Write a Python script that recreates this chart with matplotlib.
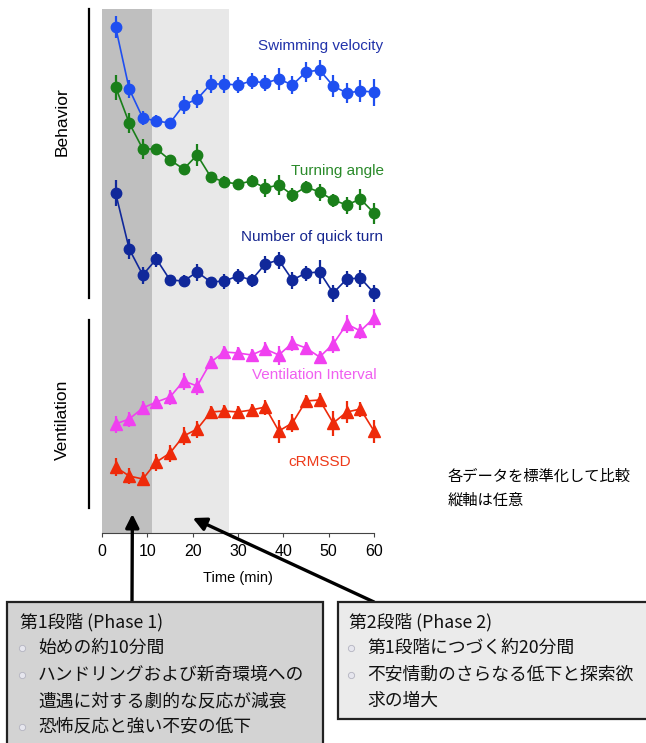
import matplotlib
matplotlib.use("Agg")
import matplotlib.pyplot as plt
from matplotlib.patches import Rectangle
from matplotlib.lines import Line2D

# time points (min)
time = [3, 6, 9, 12, 15, 18, 21, 24, 27, 30, 33, 36, 39, 42, 45, 48, 51, 54, 57, 60]

# standardised values, arbitrary vertical units (series stacked)
swim = [50.6, 44.4, 41.5, 41.2, 41.0, 42.8, 43.4, 44.9, 44.9, 44.8,
        45.2, 45.0, 45.4, 44.8, 46.1, 46.3, 44.7, 44.0, 44.2, 44.1]
swim_err = [1.07, 0.9, 0.7, 0.6, 0.5, 0.9, 0.9, 0.9, 0.9, 0.8,
            0.8, 0.8, 1.1, 0.9, 0.95, 1.0, 1.1, 1.0, 1.1, 1.35]
turn = [44.6, 41.0, 38.4, 38.4, 37.3, 36.4, 37.8, 35.6, 35.1, 34.9,
        35.2, 34.5, 34.8, 33.8, 34.6, 34.1, 33.3, 32.8, 33.4, 32.0]
turn_err = [1.25, 1.0, 1.0, 0.55, 0.5, 0.5, 1.1, 0.5, 0.6, 0.55,
            0.6, 0.9, 1.0, 0.7, 0.6, 0.85, 0.65, 0.85, 1.05, 1.05]
quick = [34.0, 28.4, 25.8, 27.4, 25.3, 25.2, 26.1, 25.1, 25.2, 25.7,
         25.3, 26.9, 27.3, 25.3, 26.0, 26.1, 24.0, 25.4, 25.5, 24.0]
quick_err = [1.3, 1.0, 0.85, 0.75, 0.5, 0.6, 0.85, 0.5, 0.75, 0.75,
             0.65, 0.85, 0.85, 0.85, 0.75, 1.2, 0.85, 0.8, 0.85, 0.85]
vent = [10.9, 11.4, 12.5, 13.1, 13.6, 15.2, 14.7, 17.1, 18.1, 18.0,
        17.8, 18.4, 17.8, 19.0, 18.5, 17.6, 18.9, 20.9, 20.2, 21.5]
vent_err = [0.85, 0.75, 0.7, 0.65, 0.75, 0.85, 0.85, 0.65, 0.6, 0.65,
            0.65, 0.7, 0.95, 0.75, 0.65, 0.65, 0.85, 0.9, 0.75, 0.95]
crmssd = [6.6, 5.7, 5.4, 7.1, 8.0, 9.7, 10.4, 12.1, 12.2, 12.1,
          12.3, 12.6, 10.2, 11.0, 13.2, 13.3, 11.0, 12.1, 12.4, 10.2]
crmssd_err = [0.9, 0.8, 0.7, 0.85, 0.85, 0.9, 0.85, 0.65, 0.65, 0.65,
              0.65, 0.75, 1.15, 0.9, 0.6, 0.7, 1.25, 1.1, 0.75, 1.15]

xticks = [0, 10, 20, 30, 40, 50, 60]
phase1 = (0, 11)
phase2 = (11, 28)

W, H = 646, 743
LAT = "Liberation Sans"
JP = ["Noto Sans CJK JP", "DejaVu Sans"]


def fx(px):
    return px / W


def fy(py):
    return 1 - py / H


fig = plt.figure(figsize=(W / 100, H / 100), dpi=100)
ax = fig.add_axes([fx(102), fy(533), fx(374) - fx(102), fy(9) - fy(533)])

ax.axvspan(*phase1, color="#bfbfbf", lw=0, zorder=0)
ax.axvspan(*phase2, color="#e8e8e8", lw=0, zorder=0)

series = [
    (swim, swim_err, "o", "#1f4ff0"),
    (turn, turn_err, "o", "#1a7f1a"),
    (quick, quick_err, "o", "#10289a"),
    (vent, vent_err, "^", "#f040f0"),
    (crmssd, crmssd_err, "^", "#ee2a0a"),
]
for vals, err, mk, col in series:
    ax.errorbar(time, vals, yerr=err, fmt="-" + mk, color=col, lw=1.2,
                elinewidth=1.6, capsize=0, ms=7.5 if mk == "o" else 8.5,
                clip_on=False, zorder=3)

ax.set_xlim(0, 60)
ax.set_ylim(0, 52.4)
for s in ["left", "right", "top"]:
    ax.spines[s].set_visible(False)
ax.spines["bottom"].set_color("#444444")
ax.set_yticks([])
ax.set_xticks(xticks)
ax.tick_params(axis="x", direction="out", length=3, color="#444444",
               labelsize=11.5, pad=5)
for lab in ax.get_xticklabels():
    lab.set_fontfamily(LAT)
fig.text(fx(238), fy(578), "Time (min)", ha="center", va="center",
         fontsize=10.5, family=LAT)

labels = [
    ("Swimming velocity", 383, 46, "right", "#2233aa"),
    ("Turning angle", 384, 171, "right", "#2a8a2a"),
    ("Number of quick turn", 383, 237, "right", "#16268f"),
    ("Ventilation Interval", 377, 375, "right", "#f060f0"),
    ("cRMSSD", 320, 462, "center", "#ee3a1a"),
]
for txt, x, y, ha, col in labels:
    fig.text(fx(x), fy(y), txt, ha=ha, va="center", fontsize=11,
             family=LAT, color=col)

# group brackets on the left
fig.add_artist(Line2D([fx(89), fx(89)], [fy(9), fy(298)], color="black", lw=1.6))
fig.add_artist(Line2D([fx(89), fx(89)], [fy(320), fy(508)], color="black", lw=1.6))
fig.text(fx(62), fy(122), "Behavior", rotation=90, ha="center", va="center",
         fontsize=12.5, family=LAT)
fig.text(fx(62), fy(420), "Ventilation", rotation=90, ha="center", va="center",
         fontsize=12.5, family=LAT)

fig.text(fx(448), fy(476), "各データを標準化して比較", ha="left", va="center",
         fontsize=11, family=JP)
fig.text(fx(448), fy(500), "縦軸は任意", ha="left", va="center",
         fontsize=11, family=JP)

# boxes
fig.add_artist(Rectangle((fx(7), fy(760)), fx(323) - fx(7), fy(602) - fy(760),
                         transform=fig.transFigure, facecolor="#d3d3d3",
                         edgecolor="#222222", lw=1.6))
fig.add_artist(Rectangle((fx(338), fy(719)), fx(660) - fx(338), fy(602) - fy(719),
                         transform=fig.transFigure, facecolor="#ebebeb",
                         edgecolor="#222222", lw=1.6))

# arrows
arrow = dict(arrowstyle="-|>", color="black", lw=2.4, mutation_scale=20,
             shrinkA=0, shrinkB=0)
ax.annotate("", xy=(6.7, 1.9), xytext=(fx(132), fy(602)),
            textcoords="figure fraction", arrowprops=arrow,
            annotation_clip=False)
ax.annotate("", xy=(20.0, 1.5), xytext=(fx(374), fy(602)),
            textcoords="figure fraction", arrowprops=arrow,
            annotation_clip=False)

box1 = [("第1段階 (Phase 1)", 20, 622, False),
        ("始めの約10分間", 38, 648, True),
        ("ハンドリングおよび新奇環境への", 38, 675, True),
        ("遭遇に対する劇的な反応が減衰", 38, 701, False),
        ("恐怖反応と強い不安の低下", 38, 727, True)]
box2 = [("第2段階 (Phase 2)", 349, 622, False),
        ("第1段階につづく約20分間", 367, 648, True),
        ("不安情動のさらなる低下と探索欲", 367, 675, True),
        ("求の増大", 367, 701, False)]
for lines in (box1, box2):
    for txt, x, y, bullet in lines:
        fig.text(fx(x), fy(y), txt, ha="left", va="center", fontsize=12.8,
                 family=JP, color="#111111")
        if bullet:
            fig.add_artist(Line2D([fx(x - 16)], [fy(y)], marker="o", ms=4.5,
                                  color="#e6e6ee", markeredgecolor="#b4b4c0",
                                  markeredgewidth=0.6,
                                  transform=fig.transFigure))

fig.savefig("out.png", dpi=100)
